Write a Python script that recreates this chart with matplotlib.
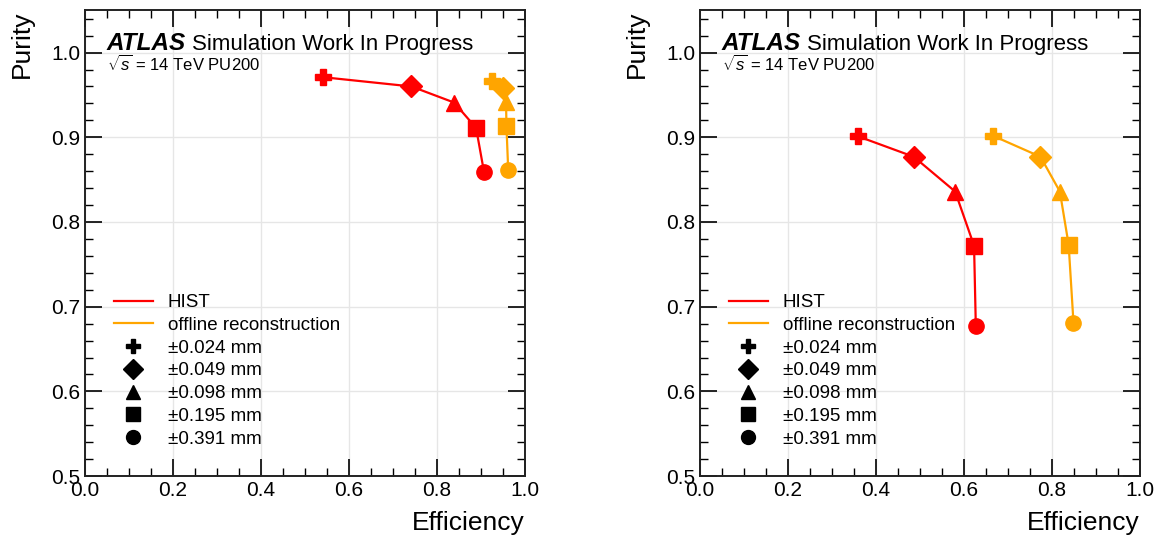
import matplotlib
matplotlib.use("Agg")
import matplotlib.pyplot as plt
from matplotlib.lines import Line2D
from matplotlib.ticker import MultipleLocator

plt.rcParams['font.family'] = ['Liberation Sans', 'DejaVu Sans']
plt.rcParams['mathtext.fontset'] = 'custom'
plt.rcParams['mathtext.rm'] = 'Liberation Sans'
plt.rcParams['mathtext.it'] = 'Liberation Sans:italic'

# window labels and marker shapes
windows = ['±0.024 mm', '±0.049 mm', '±0.098 mm', '±0.195 mm', '±0.391 mm']
markers = ['P', 'D', '^', 's', 'o']

# left panel
hist_eff_l = [0.540, 0.742, 0.839, 0.889, 0.907]
hist_pur_l = [0.971, 0.960, 0.941, 0.911, 0.859]
off_eff_l = [0.926, 0.951, 0.957, 0.958, 0.962]
off_pur_l = [0.967, 0.958, 0.942, 0.913, 0.861]

# right panel
hist_eff_r = [0.360, 0.486, 0.580, 0.623, 0.627]
hist_pur_r = [0.901, 0.877, 0.836, 0.772, 0.677]
off_eff_r = [0.665, 0.774, 0.818, 0.838, 0.849]
off_pur_r = [0.902, 0.877, 0.836, 0.773, 0.681]

panels = [(hist_eff_l, hist_pur_l, off_eff_l, off_pur_l),
          (hist_eff_r, hist_pur_r, off_eff_r, off_pur_r)]

fig = plt.figure(figsize=(11.56, 5.38), dpi=100)
lefts = [0.0735, 0.6055]

for left, (he, hp, oe, op) in zip(lefts, panels):
    ax = fig.add_axes([left, 0.115, 0.3806, 0.866])
    for eff, pur, col in [(he, hp, 'red'), (oe, op, 'orange')]:
        ax.plot(eff, pur, color=col, lw=1.6, zorder=2)
        for x, y, m in zip(eff, pur, markers):
            ax.plot(x, y, marker=m, color=col, ms=11, ls='none', zorder=3)

    ax.set_xlim(0, 1)
    ax.set_ylim(0.5, 1.05)
    ax.xaxis.set_major_locator(MultipleLocator(0.2))
    ax.xaxis.set_minor_locator(MultipleLocator(0.05))
    ax.yaxis.set_major_locator(MultipleLocator(0.1))
    ax.yaxis.set_minor_locator(MultipleLocator(0.02))
    ax.tick_params(which='both', direction='in', top=True, right=True, labelsize=15)
    ax.tick_params(which='major', length=12, width=1.2)
    ax.tick_params(which='minor', length=6, width=1.0)
    ax.grid(True, which='major', color='#e6e6e6', lw=1)
    ax.set_axisbelow(True)
    for s in ax.spines.values():
        s.set_linewidth(1.4)
        s.set_color('#222222')

    ax.set_xlabel('Efficiency', fontsize=19, loc='right', labelpad=8)
    ax.set_ylabel('Purity', fontsize=19, loc='top', labelpad=12)

    ax.text(0.05, 0.904, 'ATLAS', transform=ax.transAxes, fontsize=17.5,
            fontweight='bold', fontstyle='italic', va='bottom')
    ax.text(0.243, 0.904, 'Simulation Work In Progress', transform=ax.transAxes,
            fontsize=16, va='bottom')
    ax.text(0.05, 0.863, r'$\sqrt{s}$ = 14 TeV PU200', transform=ax.transAxes,
            fontsize=12, va='bottom')

    handles = [Line2D([], [], color='red', lw=1.6),
               Line2D([], [], color='orange', lw=1.6)]
    handles += [Line2D([], [], color='black', marker=m, ls='none', ms=10) for m in markers]
    labels = ['HIST', 'offline reconstruction'] + windows
    ax.legend(handles, labels, loc='lower left', bbox_to_anchor=(0.048, 0.045),
              frameon=False, fontsize=13.5, handlelength=2.1, labelspacing=0.3,
              borderaxespad=0)

fig.savefig('out.png', dpi=100)
